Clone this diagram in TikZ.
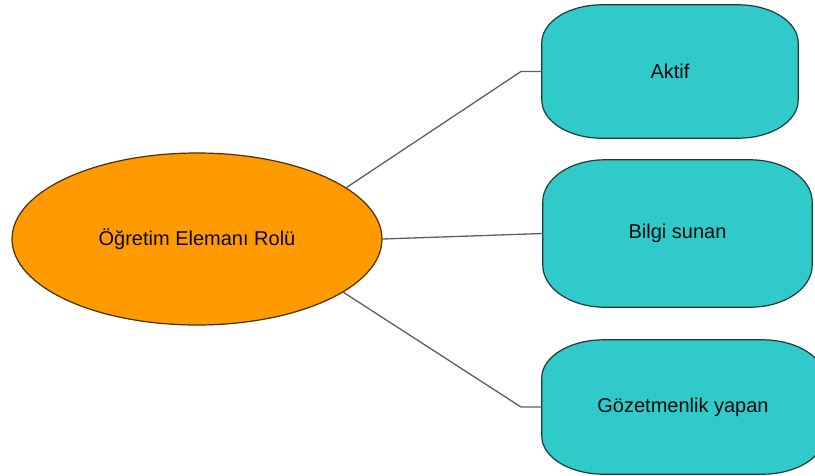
\documentclass[tikz,border=0pt]{standalone}
\usepackage{fontspec}
\setmainfont{Liberation Sans}
\usetikzlibrary{shapes.geometric,backgrounds}

\definecolor{roleorange}{HTML}{FF9A00}
\definecolor{roleedge}{HTML}{4A3000}
\definecolor{boxteal}{HTML}{31CACA}
\definecolor{boxedge}{HTML}{1E3A3A}
\definecolor{linkgray}{HTML}{5E5E5E}

\tikzset{
  every node/.style={font=\fontsize{20}{24}\selectfont},
  role/.style={ellipse, fill=roleorange, draw=roleedge, line width=1.2pt,
    minimum width=370pt, minimum height=172pt, inner sep=0pt, text=black!85!roleedge},
  slot/.style={rectangle, inner sep=0pt, text=black!85!boxedge},
  boxshape/.style={fill=boxteal, draw=boxedge, line width=1.2pt},
  link/.style={draw=linkgray, line width=1.3pt},
}

% rounded box with elliptical corners around a node: name, x radius, y radius
\newcommand\softbox[3]{%
  \begin{scope}[on background layer]
  \path[boxshape]
    ([xshift=#2]#1.north west) -- ([xshift=-#2]#1.north east)
    arc[start angle=90, end angle=0, x radius=#2, y radius=#3]
    -- ([yshift=#3]#1.south east)
    arc[start angle=0, end angle=-90, x radius=#2, y radius=#3]
    -- ([xshift=#2]#1.south west)
    arc[start angle=270, end angle=180, x radius=#2, y radius=#3]
    -- ([yshift=-#3]#1.north west)
    arc[start angle=180, end angle=90, x radius=#2, y radius=#3]
    -- cycle;
  \end{scope}}

\begin{document}
\begin{tikzpicture}[x=1pt, y=-1pt]
  \useasboundingbox (0,0) rectangle (815,475);

  \node[role] (role) at (197,239) {Öğretim Elemanı Rolü};

  \node[slot, minimum width=256pt, minimum height=133pt] (aktif) at (670,71.5) {Aktif};
  \node[slot, minimum width=269pt, minimum height=147pt] (bilgi) at (677.5,233.5) {Bilgi sunan};
  \node[slot, minimum width=282pt, minimum height=134pt] (gozet) at (683,407) {Gözetmenlik yapan};

  \softbox{aktif}{60pt}{38pt}
  \softbox{bilgi}{62pt}{42pt}
  \softbox{gozet}{62pt}{38pt}

  \coordinate (k1) at (521,71.5);
  \coordinate (k3) at (521,407);

  \draw[link] (role.19) -- (k1) -- (aktif.west);
  \draw[link] (role.east) -- (bilgi.west);
  \draw[link] (role.-20) -- (k3) -- (gozet.west);
\end{tikzpicture}
\end{document}
